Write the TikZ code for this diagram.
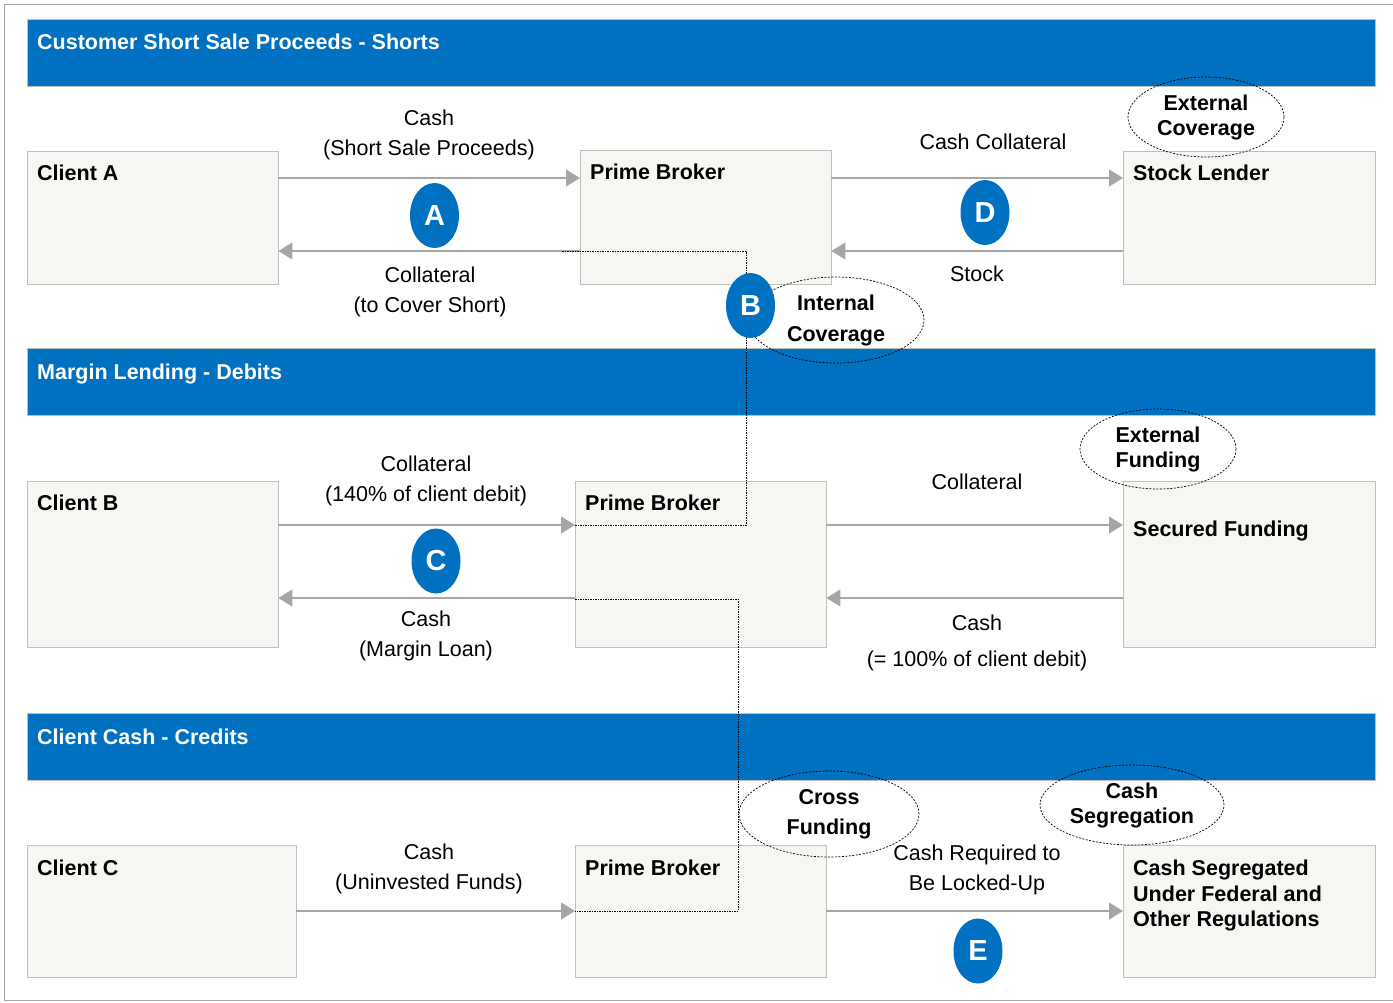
\documentclass[tikz,border=0pt]{standalone}
\usepackage{fontspec}
\setmainfont{Liberation Sans}
\usetikzlibrary{arrows.meta,shapes.geometric,positioning}
\definecolor{bannerblue}{HTML}{0070C0}
\definecolor{boxfill}{HTML}{F7F6F3}
\definecolor{boxline}{HTML}{BFBFBF}
\definecolor{flowgray}{HTML}{A6A6A6}

\begin{document}
\begin{tikzpicture}[x=1pt,y=-1pt,
    banner/.style={draw=boxline,fill=bannerblue,minimum width=1348,minimum height=67,inner sep=0,anchor=north west},
    bannertext/.style={text=white,font=\fontsize{21.5}{25}\selectfont\bfseries,anchor=north west,inner sep=0},
    party/.style={draw=boxline,fill=boxfill,inner sep=0,anchor=north west},
    partytext/.style={font=\fontsize{21.5}{25.5}\selectfont\bfseries,anchor=north west,inner sep=0,align=left},
    flow/.style={flowgray,line width=1.2pt,-{Triangle[length=14pt,width=17pt]}},
    flowtext/.style={font=\fontsize{21.5}{30}\selectfont,align=center,inner sep=0},
    marker/.style={ellipse,fill=bannerblue,minimum width=49,minimum height=65,inner sep=0,text=white,font=\fontsize{29}{30}\selectfont\bfseries},
    bubble/.style={ellipse,draw,dash pattern=on 2pt off 1.5pt,line width=0.7pt,inner sep=0,align=center,font=\fontsize{21.5}{25}\selectfont\bfseries},
    link/.style={black,line width=0.8pt,dash pattern=on 1.5pt off 1pt}
  ]
  \useasboundingbox (0,0) rectangle (1393,1002);
  \draw[flowgray,line width=1pt] (1393,4) -- (4,4) -- (4,1000) -- (1393,1000);

  % Abschnitte
  \node[banner] (shorts) at (27,19) {};
  \node[bannertext] (shortsText) at ([xshift=10,yshift=-15]shorts.north west) {Customer Short Sale Proceeds - Shorts};
  \node[banner] (debits) at (27,348) {};
  \node[bannertext] (debitsText) at ([xshift=10,yshift=-16]debits.north west) {Margin Lending - Debits};
  \node[banner] (credits) at (27,713) {};
  \node[bannertext] (creditsText) at ([xshift=10,yshift=-16]credits.north west) {Client Cash - Credits};

  % Parteien
  \node[party,minimum width=251,minimum height=133] (clientA) at (27,151) {};
  \node[party,minimum width=251,minimum height=134] (pbA) at (580,150) {};
  \node[party,minimum width=252,minimum height=133] (lender) at (1123,151) {};
  \node[party,minimum width=251,minimum height=166] (clientB) at (27,481) {};
  \node[party,minimum width=251,minimum height=166] (pbB) at (575,481) {};
  \node[party,minimum width=252,minimum height=166] (funding) at (1123,481) {};
  \node[party,minimum width=269,minimum height=132] (clientC) at (27,845) {};
  \node[party,minimum width=251,minimum height=132] (pbC) at (575,845) {};
  \node[party,minimum width=252,minimum height=132] (segregated) at (1123,845) {};

  \node[partytext] (clientAText) at ([xshift=10,yshift=-14]clientA.north west) {Client A};
  \node[partytext] (pbAText) at ([xshift=10,yshift=-14]pbA.north west) {Prime Broker};
  \node[partytext] (lenderText) at ([xshift=10,yshift=-14]lender.north west) {Stock Lender};
  \node[partytext] (clientBText) at ([xshift=10,yshift=-14]clientB.north west) {Client B};
  \node[partytext] (pbBText) at ([xshift=10,yshift=-14]pbB.north west) {Prime Broker};
  \node[partytext] (fundingText) at ([xshift=10,yshift=-40]funding.north west) {Secured Funding};
  \node[partytext] (clientCText) at ([xshift=10,yshift=-15]clientC.north west) {Client C};
  \node[partytext] (pbCText) at ([xshift=10,yshift=-15]pbC.north west) {Prime Broker};
  \node[partytext] (segregatedText) at ([xshift=10,yshift=-15]segregated.north west) {Cash Segregated\\Under Federal and\\Other Regulations};

  % Fluesse
  \draw[flow] (clientA.east |- 0,178) -- (pbA.west |- 0,178);
  \draw[flow] (pbA.west |- 0,251) -- (clientA.east |- 0,251);
  \draw[flow] (pbA.east |- 0,178) -- (lender.west |- 0,178);
  \draw[flow] (lender.west |- 0,251) -- (pbA.east |- 0,251);
  \draw[flow] (clientB.east |- 0,525) -- (pbB.west |- 0,525);
  \draw[flow] (pbB.west |- 0,598) -- (clientB.east |- 0,598);
  \draw[flow] (pbB.east |- 0,525) -- (funding.west |- 0,525);
  \draw[flow] (funding.west |- 0,598) -- (pbB.east |- 0,598);
  \draw[flow] (clientC.east |- 0,911) -- (pbC.west |- 0,911);
  \draw[flow] (pbC.east |- 0,911) -- (segregated.west |- 0,911);

  % interne Verbindungen
  \draw[link] (pbA.west |- 0,251) ++(-18,0) -- ++(184,0) |- (pbB.west |- 0,525);
  \draw[link] (pbB.west |- 0,599) -- ++(163,0) |- (pbC.west |- 0,911);

  \node[flowtext] (proceedsText) at (429,135) {Cash\\(Short Sale Proceeds)};
  \node[flowtext] (coverText) at (430,291.5) {Collateral\\(to Cover Short)};
  \node[flowtext] (cashCollText) at (993,142) {Cash Collateral};
  \node[flowtext] (stockText) at (977,274) {Stock};
  \node[flowtext] (debitText) at (426,481) {Collateral\\(140\% of client debit)};
  \node[flowtext] (loanText) at (426,635.5) {Cash\\(Margin Loan)};
  \node[flowtext] (fundCollText) at (977,482) {Collateral};
  \node[flowtext,font=\fontsize{21.5}{36}\selectfont] (fundCashText) at (977,643) {Cash\\(= 100\% of client debit)};
  \node[flowtext] (uninvestedText) at (429,869) {Cash\\(Uninvested Funds)};
  \node[flowtext] (lockedText) at (977,869.5) {Cash Required to\\Be Locked-Up};

  % Hinweise
  \node[bubble,minimum width=156,minimum height=80] (extCover) at (1206,117) {External\\Coverage};
  \node[bubble,minimum width=176,minimum height=86,font=\fontsize{21.5}{31}\selectfont\bfseries] (intCover) at (836,320) {Internal\\Coverage};
  \node[bubble,minimum width=156,minimum height=80] (extFund) at (1158,449) {External\\Funding};
  \node[bubble,minimum width=180,minimum height=86,font=\fontsize{21.5}{30}\selectfont\bfseries] (crossFund) at (829,814) {Cross\\Funding};
  \node[bubble,minimum width=184,minimum height=80] (cashSeg) at (1132,805) {Cash\\Segregation};

  \node[marker] (markA) at (434.5,215.5) {A};
  \node[marker] (markB) at (750.5,305.5) {B};
  \node[marker] (markC) at (436,561) {C};
  \node[marker] (markD) at (985,212.5) {D};
  \node[marker] (markE) at (978,951) {E};
\end{tikzpicture}
\end{document}
